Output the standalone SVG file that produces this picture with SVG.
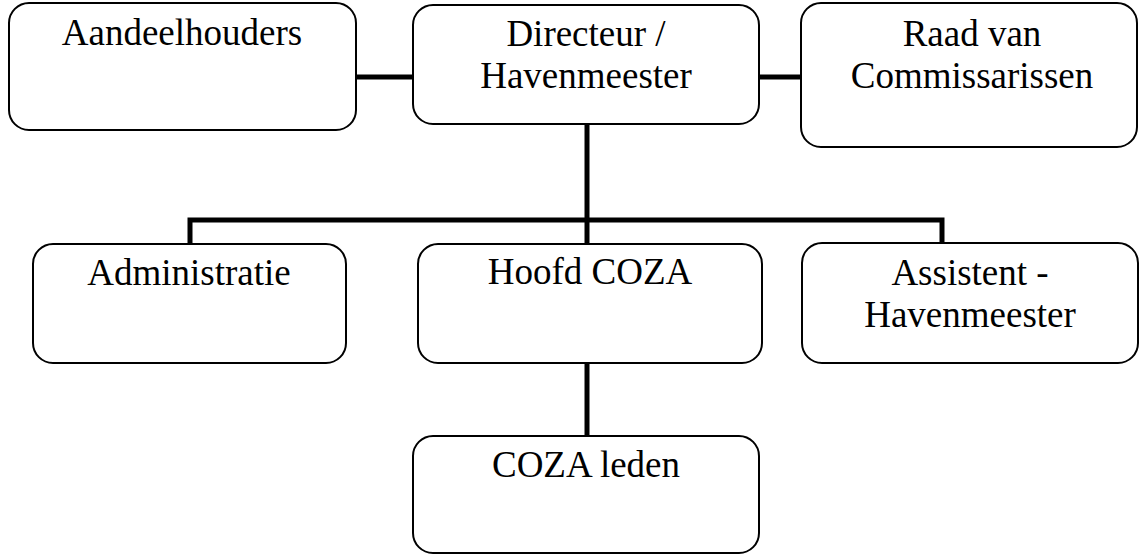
<svg xmlns="http://www.w3.org/2000/svg" width="1139" height="555" viewBox="0 0 1139 555">
<style>
.box{fill:#fff;stroke:#000;stroke-width:2}
.lbl{font-size:37px;fill:#000;text-anchor:middle}
.con{stroke:#000;stroke-width:5;fill:none}
</style>
<rect width="1139" height="555" fill="#fff"/>
<g id="connectors">
<line class="con" x1="356" y1="77" x2="413" y2="77"/>
<line class="con" x1="759" y1="77" x2="801" y2="77"/>
<line class="con" x1="587" y1="124" x2="587" y2="244"/>
<polyline class="con" points="190,244 190,220 942,220 942,243"/>
<line class="con" x1="587" y1="363" x2="587" y2="436"/>
</g>
<g font-family="'Liberation Serif', 'Times New Roman', 'DejaVu Serif', serif">
<g id="aandeelhouders">
<rect class="box" x="9" y="3" width="347" height="127" rx="20"/>
<text class="lbl" x="182" y="45">Aandeelhouders</text>
</g>
<g id="directeur">
<rect class="box" x="413" y="5" width="346" height="119" rx="20"/>
<text class="lbl" x="586" y="46">Directeur /</text>
<text class="lbl" x="586" y="88">Havenmeester</text>
</g>
<g id="raad">
<rect class="box" x="801" y="3" width="336" height="144" rx="20"/>
<text class="lbl" x="972" y="46">Raad van</text>
<text class="lbl" x="972" y="88">Commissarissen</text>
</g>
<g id="administratie">
<rect class="box" x="33" y="244" width="313" height="119" rx="20"/>
<text class="lbl" x="189" y="285">Administratie</text>
</g>
<g id="hoofd-coza">
<rect class="box" x="418" y="244" width="344" height="119" rx="20"/>
<text class="lbl" x="590" y="284">Hoofd COZA</text>
</g>
<g id="assistent">
<rect class="box" x="802" y="243" width="336" height="120" rx="20"/>
<text class="lbl" x="970" y="285">Assistent -</text>
<text class="lbl" x="970" y="327">Havenmeester</text>
</g>
<g id="coza-leden">
<rect class="box" x="413" y="436" width="346" height="117" rx="20"/>
<text class="lbl" x="586" y="477">COZA leden</text>
</g>
</g>
</svg>
